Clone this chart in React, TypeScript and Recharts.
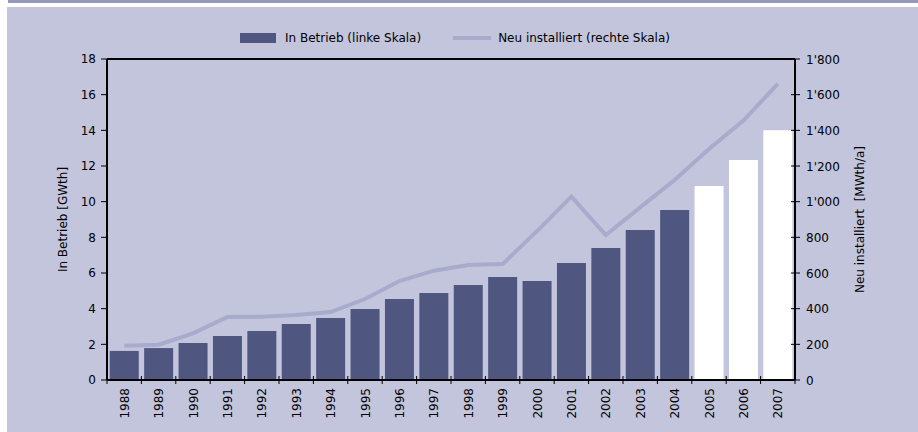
import React from 'react';
import { ComposedChart, Bar, Line, XAxis, YAxis, CartesianGrid, Cell, ReferenceLine } from 'recharts';

const years = ['1988','1989','1990','1991','1992','1993','1994','1995','1996','1997','1998','1999','2000','2001','2002','2003','2004','2005','2006','2007'];
const inBetrieb = [1.63,1.79,2.07,2.47,2.75,3.14,3.48,3.98,4.54,4.88,5.33,5.78,5.55,6.56,7.4,8.41,9.53,10.88,12.34,14.0];
const neuInstalliert = [192,198,262,353,355,364,381,454,555,613,645,650,835,1028,813,968,1121,1295,1455,1660];
const forecast = [false,false,false,false,false,false,false,false,false,false,false,false,false,false,false,false,false,true,true,true];
const leftTicks = [0,2,4,6,8,10,12,14,16,18];
const rightTicks = [0,200,400,600,800,1000,1200,1400,1600,1800];

const data = years.map((y, i) => ({ year: y, betrieb: inBetrieb[i], neu: neuInstalliert[i], fc: forecast[i] }));

const FONT = '"DejaVu Sans", sans-serif';
const BAR = '#4f5781';
const LINE = '#a9abcc';
const BG = '#c3c5dc';

const fmtRight = (v: number) => {
  if (v >= 1000) {
    const s = String(v);
    return s.slice(0, s.length - 3) + "'" + s.slice(s.length - 3);
  }
  return String(v);
};

const BAND = 688 / 20;

const XTick = (props: any) => {
  const { x, y, payload, index } = props;
  const left = x - BAND / 2;
  return (
    <g>
      <line x1={left} y1={y - 4} x2={left} y2={y + 4} stroke="#000" strokeWidth={1} />
      {index === years.length - 1 ? (
        <line x1={x + BAND / 2} y1={y - 4} x2={x + BAND / 2} y2={y + 4} stroke="#000" strokeWidth={1} />
      ) : null}
      <text x={x} y={y + 8} transform={`rotate(-90, ${x}, ${y + 8})`} textAnchor="end" fontSize={12} fontFamily={FONT} fill="#000" dy={4.5}>
        {payload.value}
      </text>
    </g>
  );
};

const RightTick = (props: any) => {
  const { x, y, payload } = props;
  return (
    <g>
      <line x1={x - 4} y1={y} x2={x + 5} y2={y} stroke="#000" strokeWidth={1} />
      <text x={x + 11} y={y} dy={4.5} textAnchor="start" fontSize={12} fontFamily={FONT} fill="#000">
        {fmtRight(payload.value)}
      </text>
    </g>
  );
};

export default function App() {
  return (
    <div style={{ position: 'fixed', left: 0, top: 0, width: 918, height: 432, background: '#fff', overflow: 'hidden' }}>
      <div style={{ position: 'absolute', left: 7, top: 7, width: 911, height: 425, background: BG }} />
      <div style={{ position: 'absolute', left: 8, top: 0, width: 910, height: 3, background: '#9597bd' }} />
      <div style={{ position: 'absolute', left: 240, top: 31, height: 14, display: 'flex', alignItems: 'center', fontFamily: FONT, fontSize: 12, color: '#000', whiteSpace: 'nowrap' }}>
        <div style={{ width: 36, height: 10, background: BAR, marginRight: 9 }} />
        <span>In Betrieb (linke Skala)</span>
        <div style={{ width: 38, height: 4, background: LINE, marginLeft: 32, marginRight: 7 }} />
        <span>Neu installiert (rechte Skala)</span>
      </div>
      <div style={{ position: 'absolute', left: 0, top: 0 }}>
        <ComposedChart width={918} height={432} data={data} margin={{ top: 59, right: 63, bottom: 7, left: 47 }} barCategoryGap="8%">
          <CartesianGrid horizontal vertical={false} stroke="#000" strokeDasharray="6 5" />
          <XAxis dataKey="year" height={45} tick={<XTick />} tickLine={false} tickSize={0} tickMargin={0} axisLine={{ stroke: '#000', strokeWidth: 2 }} interval={0} />
          <YAxis yAxisId="left" orientation="left" domain={[0, 18]} ticks={leftTicks} width={60} axisLine={{ stroke: '#000', strokeWidth: 2 }} tickLine={{ stroke: '#000' }} tickSize={6} tickMargin={5} tick={{ fontSize: 12, fontFamily: FONT, fill: '#000' }}
            label={{ value: 'In Betrieb [GWth]', angle: -90, position: 'insideLeft', offset: 16, style: { fontSize: 12, fontFamily: FONT, fill: '#000', textAnchor: 'middle' } }} />
          <YAxis yAxisId="right" orientation="right" domain={[0, 1800]} ticks={rightTicks} width={60} tick={<RightTick />} tickLine={false} tickSize={0} tickMargin={0} axisLine={{ stroke: '#000', strokeWidth: 2 }}
            label={{ value: 'Neu installiert\u00a0\u00a0[MWth/a]', angle: -90, position: 'insideRight', offset: -5, style: { fontSize: 12, fontFamily: FONT, fill: '#000', textAnchor: 'middle' } }} />
          <ReferenceLine yAxisId="left" y={18} stroke="#000" strokeWidth={2} />
          <Bar yAxisId="left" dataKey="betrieb" isAnimationActive={false}>
            {data.map((d, i) => (
              <Cell key={i} fill={d.fc ? '#ffffff' : BAR} />
            ))}
          </Bar>
          <Line yAxisId="right" dataKey="neu" type="linear" stroke={LINE} strokeWidth={4} dot={false} isAnimationActive={false} />
        </ComposedChart>
      </div>
    </div>
  );
}
